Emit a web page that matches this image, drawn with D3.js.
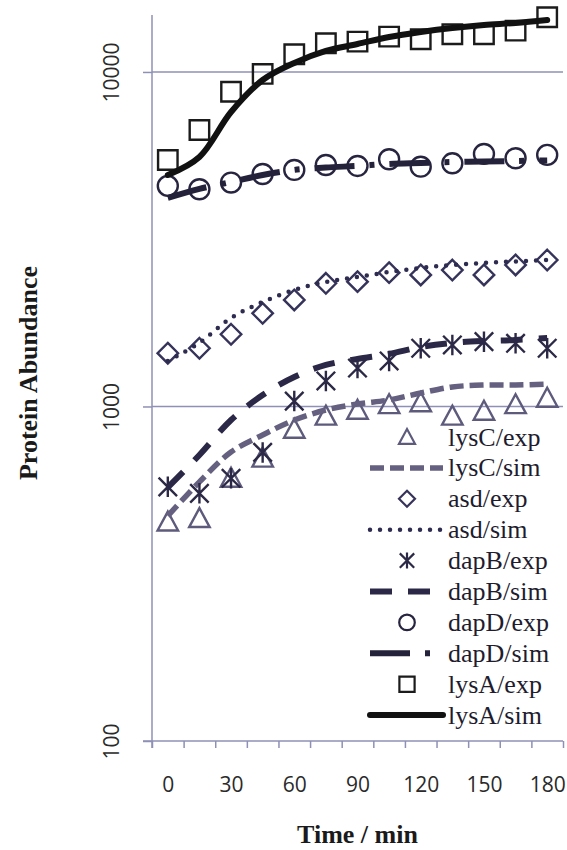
<!DOCTYPE html>
<html>
<head>
<meta charset="utf-8">
<script src="https://cdn.jsdelivr.net/npm/d3@7"></script>
<style>
  body { margin: 0; background: #fff; }
  svg { display: block; }
</style>
</head>
<body>
<svg id="chart" width="567" height="850"></svg>
<script>
'use strict'

// time points (min)
var times = [0, 15, 30, 45, 60, 75, 90, 105, 120, 135, 150, 165, 180];
var xLabels = [0, 30, 60, 90, 120, 150, 180];
var yTicks = [100, 1000, 10000];

// values
var lysCExp = [452, 463, 611, 702, 856, 937, 976, 1014, 1028, 937, 969, 1014, 1060];
var lysCSim = [471, 595, 731, 822, 911, 976, 1017, 1046, 1097, 1144, 1159, 1159, 1167];
var asdExp = [1443, 1493, 1644, 1899, 2082, 2335, 2361, 2512, 2473, 2558, 2473, 2649, 2741];
var asdSim = [1368, 1549, 1839, 2053, 2230, 2356, 2438, 2524, 2595, 2649, 2686, 2714, 2741];
var dapBExp = [575, 550, 610, 729, 1038, 1192, 1303, 1368, 1493, 1527, 1562, 1545, 1493];
var dapBSim = [573, 716, 911, 1082, 1225, 1331, 1387, 1435, 1506, 1549, 1570, 1581, 1602];
var dapDExp = [4565, 4460, 4670, 4955, 5095, 5270, 5236, 5483, 5210, 5333, 5688, 5520, 5650];
var dapDSim = [4200, 4470, 4690, 4920, 5095, 5182, 5236, 5310, 5345, 5380, 5400, 5420, 5440];
var lysAExp = [5457, 6707, 8730, 9865, 11300, 12180, 12320, 12750, 12520, 12960, 12960, 13290, 14570];
var lysASim = [4920, 5570, 7590, 9460, 10640, 11560, 12120, 12720, 13170, 13540, 13820, 14010, 14300];

var series = [
  {name: "lysC/exp", values: lysCExp, marker: "triangle", color: "#5d5a7c"},
  {name: "lysC/sim", values: lysCSim, width: 5.5, dash: "14,6", cap: "butt", color: "#65607f"},
  {name: "asd/exp", values: asdExp, marker: "diamond", color: "#36335a"},
  {name: "asd/sim", values: asdSim, width: 4.5, dash: "0,10", cap: "round", color: "#2e2b50"},
  {name: "dapB/exp", values: dapBExp, marker: "star", color: "#2c2946"},
  {name: "dapB/sim", values: dapBSim, width: 6, dash: "22,16", cap: "butt", color: "#2a2846"},
  {name: "dapD/exp", values: dapDExp, marker: "circle", color: "#27243f"},
  {name: "dapD/sim", values: dapDSim, width: 6, dash: "40,15,5,15", cap: "butt", color: "#24223a"},
  {name: "lysA/exp", values: lysAExp, marker: "square", color: "#1b1b1b"},
  {name: "lysA/sim", values: lysASim, width: 6, dash: null, cap: "round", color: "#111111"}
];

var plotLeft = 152, plotRight = 563, plotTop = 15, plotBottom = 741;
var step = (times[1] - times[0]);

var svg = d3.select("#chart");

var x = d3.scaleLinear()
    .domain([times[0] - step / 2, times[times.length - 1] + step / 2])
    .range([plotLeft, plotRight]);

var y = d3.scaleLog()
    .domain([100, 14800])
    .range([plotBottom, plotTop]);

var axisColor = "#8e90b6";
var labelFont = "'Open Sans', sans-serif";
var serif = "'Liberation Serif', 'Times New Roman', serif";

// gridlines
svg.append("g")
  .selectAll("line")
  .data(yTicks.slice(1))
  .enter().append("line")
    .attr("x1", plotLeft).attr("x2", plotRight)
    .attr("y1", function(d) { return y(d); })
    .attr("y2", function(d) { return y(d); })
    .attr("stroke", axisColor)
    .attr("stroke-width", 1.5);

// y axis
var yAxis = svg.append("g")
    .attr("transform", "translate(" + plotLeft + ",0)")
    .call(d3.axisLeft(y).tickValues(yTicks).tickSize(9).tickFormat(d3.format("d")));
yAxis.select(".domain").attr("stroke", axisColor).attr("stroke-width", 1.5)
    .attr("d", "M0," + (plotBottom + 7) + "V" + plotTop);
yAxis.selectAll(".tick line").attr("stroke", axisColor).attr("stroke-width", 1.5);
yAxis.selectAll(".tick text")
    .attr("x", 0).attr("y", 0).attr("dy", 0)
    .attr("transform", "translate(-33,0) rotate(-90)")
    .attr("text-anchor", "middle")
    .attr("fill", "#2a2a2a")
    .style("font-family", labelFont)
    .style("font-size", "21px");

// x axis: tick marks between categories
var boundaries = times.map(function(t) { return t - step / 2; }).concat([times[times.length - 1] + step / 2]);
var xAxis = svg.append("g")
    .attr("transform", "translate(0," + plotBottom + ")")
    .call(d3.axisBottom(x).tickValues(boundaries).tickSize(7).tickFormat(""));
xAxis.select(".domain").attr("stroke", axisColor).attr("stroke-width", 1.5)
    .attr("d", "M" + (plotLeft - 9) + ",0H" + plotRight);
xAxis.selectAll(".tick line").attr("stroke", axisColor).attr("stroke-width", 1.5);

// x labels
var xLab = svg.append("g")
    .attr("transform", "translate(0," + plotBottom + ")")
    .call(d3.axisBottom(x).tickValues(xLabels).tickSize(0).tickFormat(d3.format("d")));
xLab.select(".domain").remove();
xLab.selectAll(".tick text")
    .attr("y", 51).attr("dy", 0)
    .attr("fill", "#2a2a2a")
    .style("font-family", labelFont)
    .style("font-size", "21px");

// axis titles
svg.append("text")
    .attr("x", (plotLeft + plotRight) / 2).attr("y", 843)
    .attr("text-anchor", "middle")
    .style("font-family", serif).style("font-weight", "bold").style("font-size", "26px")
    .attr("fill", "#1a1a1a")
    .text("Time / min");

svg.append("text")
    .attr("transform", "translate(37,373) rotate(-90)")
    .attr("text-anchor", "middle")
    .style("font-family", serif).style("font-weight", "bold").style("font-size", "26px")
    .attr("fill", "#1a1a1a")
    .text("Protein Abundance");

function markerPath(type, s) {
  var h = s / 2;
  switch (type) {
    case "triangle":
      return "M0," + (-h) + "L" + h + "," + h * 0.85 + "L" + (-h) + "," + h * 0.85 + "Z";
    case "diamond":
      return "M0," + (-h) + "L" + h + ",0L0," + h + "L" + (-h) + ",0Z";
    case "square":
      return "M" + (-h * 0.95) + "," + (-h * 0.95) + "h" + s * 0.95 + "v" + s * 0.95 + "h" + (-s * 0.95) + "Z";
    case "circle":
      return d3.symbol(d3.symbolCircle, Math.PI * h * h * 0.95)();
    case "star":
      var a = h * 0.9;
      return "M0," + (-h) + "V" + h +
             "M" + (-a) + "," + (-a) + "L" + a + "," + a +
             "M" + a + "," + (-a) + "L" + (-a) + "," + a;
  }
}

var line = d3.line()
    .x(function(d, i) { return x(times[i]); })
    .y(function(d) { return y(d); })
    .curve(d3.curveCatmullRom.alpha(0.5));

var plot = svg.append("g");

series.forEach(function(s) {
  if (s.marker) {
    plot.append("g").selectAll("path")
      .data(s.values)
      .enter().append("path")
        .attr("transform", function(d, i) { return "translate(" + x(times[i]) + "," + y(d) + ")"; })
        .attr("d", markerPath(s.marker, 20.5))
        .attr("fill", "none")
        .attr("stroke", s.color)
        .attr("stroke-width", 2.4);
  } else {
    plot.append("path")
      .datum(s.values)
      .attr("d", line)
      .attr("fill", "none")
      .attr("stroke", s.color)
      .attr("stroke-width", s.width)
      .attr("stroke-linecap", s.cap)
      .attr("stroke-dasharray", s.dash);
  }
});

// legend
var legend = svg.append("g");
series.forEach(function(s, i) {
  var ly = 437 + 30.9 * i;
  if (s.marker) {
    legend.append("path")
      .attr("transform", "translate(407," + ly + ")")
      .attr("d", markerPath(s.marker, 16))
      .attr("fill", "none")
      .attr("stroke", s.color)
      .attr("stroke-width", 2.2);
  } else {
    legend.append("line")
      .attr("x1", 370).attr("x2", 443)
      .attr("y1", ly).attr("y2", ly)
      .attr("stroke", s.color)
      .attr("stroke-width", s.width)
      .attr("stroke-linecap", s.cap)
      .attr("stroke-dasharray", s.dash);
  }
  legend.append("text")
    .attr("x", 448).attr("y", ly).attr("dy", "0.33em")
    .style("font-family", serif).style("font-size", "26px")
    .attr("fill", "#1e1c2e")
    .text(s.name);
});
</script>
</body>
</html>
